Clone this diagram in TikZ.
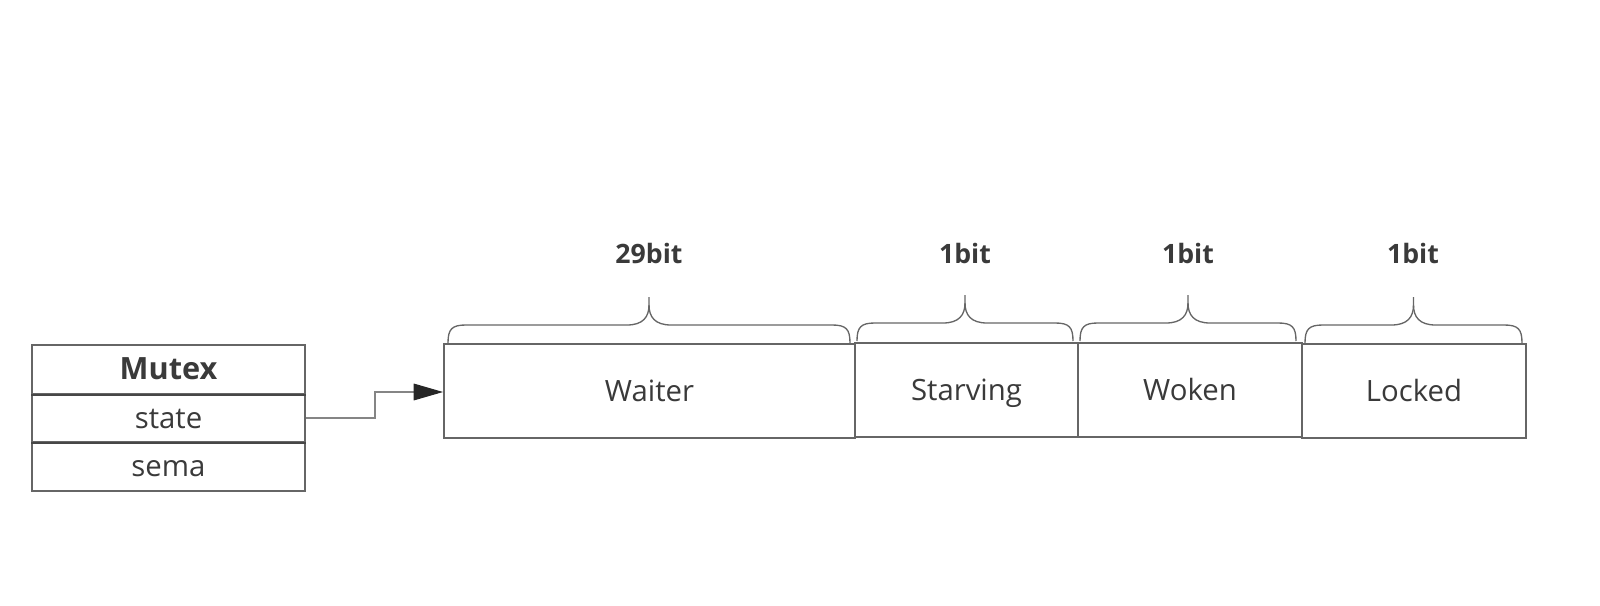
\documentclass[tikz,border=0pt]{standalone}
\usepackage{fontspec}
\setmainfont{Open Sans}
\usetikzlibrary{arrows.meta}
\definecolor{linegray}{HTML}{666666}
\definecolor{txt}{HTML}{3A3A3A}
\begin{document}
\begin{tikzpicture}[x=0.75pt,y=-0.75pt,
  cell/.style={draw=linegray,line width=1.4pt,fill=white,inner sep=0pt,text=txt,
    text height=15.7pt,text depth=0pt,font=\fontsize{22}{26}\selectfont},
  bitlbl/.style={text=txt,font=\bfseries\fontsize{20}{24}\selectfont,inner sep=0pt},
  bracepath/.style={draw=linegray,line width=1pt},
  conn/.style={draw=linegray!80,line width=0.9pt}
]
\useasboundingbox (0,0) rectangle (1600,606);
% Mutex struct
\node[cell,minimum width=273*0.75pt,minimum height=49*0.75pt,font=\bfseries\fontsize{23}{27}\selectfont] (mutex) at (168.5,369.5) {Mutex};
\node[cell,minimum width=273*0.75pt,minimum height=48*0.75pt] (state) at (168.5,418) {state};
\node[cell,minimum width=273*0.75pt,minimum height=49*0.75pt] (sema) at (168.5,466.5) {sema};
\draw[draw=linegray!70!black,line width=1.8pt] (mutex.south west) -- (mutex.south east);
\draw[draw=linegray!70!black,line width=1.8pt] (state.south west) -- (state.south east);
% state fields
\node[cell,minimum width=411*0.75pt,minimum height=94*0.75pt] (waiter) at (649.5,391) {Waiter};
\node[cell,minimum width=223*0.75pt,minimum height=94*0.75pt] (starving) at (966.5,390) {Starving};
\node[cell,minimum width=224*0.75pt,minimum height=94*0.75pt] (woken) at (1190,390) {Woken};
\node[cell,minimum width=224*0.75pt,minimum height=94*0.75pt] (locked) at (1414,391) {Locked};
% connector
\coordinate (bend) at (375,418);
\draw[conn,-{Triangle[length=22pt,width=12.5pt,color=black!85]}] (state.east) -- (bend) -- (375,392) -- (waiter.west |- 0,392);
% braces
\newcommand{\mybrace}[3]{% x1, x2, ybottom
  \pgfmathsetmacro{\cx}{(#1+#2)/2}
  \draw[bracepath] (#1,#3) .. controls (#1,#3-14) and (#1+4,#3-18) .. (#1+18,#3-18)
    -- (\cx-22,#3-18) .. controls (\cx-6,#3-18) and (\cx,#3-26) .. (\cx,#3-38)
    -- (\cx,#3-46);
  \draw[bracepath] (#2,#3) .. controls (#2,#3-14) and (#2-4,#3-18) .. (#2-18,#3-18)
    -- (\cx+22,#3-18) .. controls (\cx+6,#3-18) and (\cx,#3-26) .. (\cx,#3-38);
}
\mybrace{448}{850}{343}
\mybrace{857}{1073}{341}
\mybrace{1080}{1296}{341}
\mybrace{1305}{1522}{343}
% labels
\node[bitlbl] (l1) at (649,253) {29bit};
\node[bitlbl] (l2) at (965,253) {1bit};
\node[bitlbl] (l3) at (1188,253) {1bit};
\node[bitlbl] (l4) at (1413,253) {1bit};
\end{tikzpicture}
\end{document}
